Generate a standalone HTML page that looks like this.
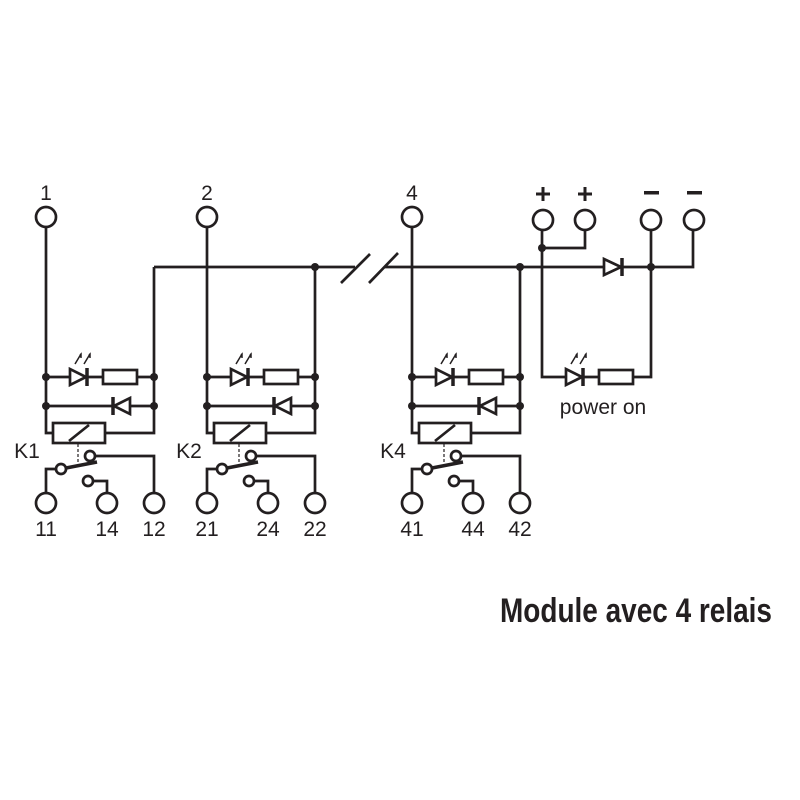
<!DOCTYPE html>
<html><head><meta charset="utf-8"><style>
html,body{margin:0;padding:0;background:#fff;}
svg{display:block;}
text{font-family:"Liberation Sans",sans-serif;fill:#231f20;}
</style></head><body>
<svg width="800" height="800" viewBox="0 0 800 800" xmlns="http://www.w3.org/2000/svg">
<defs>
<g id="ch" stroke="#231f20" stroke-width="2.7" fill="none">
  <circle cx="46" cy="217" r="10" fill="#fff"/>
  <path d="M46 227 V433 H53"/>
  <path d="M154 267 V433 H105"/>
  <path d="M46 377 H70 M87 377 H103 M137 377 H154"/>
  <path d="M70 369 L70 385 L86 377 Z"/>
  <path d="M87 368 V386" stroke-width="3.5"/>
  <rect x="103" y="370" width="34" height="14"/>
  <path d="M75 364 L81 354 M80 355 L81 354 L81 358 M84 364 L90 354 M89 355 L90 354 L90 358" stroke-width="1.5"/>
  <path d="M46 406 H113 M130 406 H154"/>
  <path d="M113 397 V415" stroke-width="3.5"/>
  <path d="M114 406 L130 398 L130 414 Z"/>
  <rect x="53" y="423" width="52" height="20" fill="#fff"/>
  <path d="M69 441 L89 425"/>
  <path d="M78 444 V466" stroke-width="1.2" stroke-dasharray="3,2"/>
  <path d="M66 468 L97 462" stroke-width="3.5"/>
  <circle cx="61" cy="469" r="5" fill="#fff"/>
  <circle cx="90" cy="456" r="5" fill="#fff"/>
  <circle cx="88" cy="481" r="5" fill="#fff"/>
  <path d="M95 456 H154 V493"/>
  <path d="M93 481 H107 V493"/>
  <path d="M56 469 H46 V493"/>
  <circle cx="46" cy="503" r="10" fill="#fff"/>
  <circle cx="107" cy="503" r="10" fill="#fff"/>
  <circle cx="154" cy="503" r="10" fill="#fff"/>
</g>
<g id="dots" fill="#231f20">
  <circle cx="46" cy="377" r="4"/><circle cx="46" cy="406" r="4"/>
  <circle cx="154" cy="377" r="4"/><circle cx="154" cy="406" r="4"/>
</g>
</defs>

<use href="#ch"/><use href="#dots"/>
<use href="#ch" transform="translate(161,0)"/><use href="#dots" transform="translate(161,0)"/>
<use href="#ch" transform="translate(366,0)"/><use href="#dots" transform="translate(366,0)"/>

<g stroke="#231f20" stroke-width="2.7" fill="none">
  <path d="M154 267 H355 M384 267 H693 V227"/>
  <path d="M341 283 L370 254 M369 283 L398 253"/>
  <circle cx="543" cy="220" r="10" fill="#fff"/>
  <circle cx="585" cy="220" r="10" fill="#fff"/>
  <circle cx="651" cy="220" r="10" fill="#fff"/>
  <circle cx="694" cy="220" r="10" fill="#fff"/>
  <path d="M542 230 V377 H566 M583 377 H599 M633 377 H651 V230"/>
  <path d="M542 248 H585 V230"/>
  <path d="M604 259 L604 275 L621 267 Z" fill="#fff"/>
  <path d="M622 258 V276" stroke-width="3.5"/>
  <path d="M566 369 L566 385 L582 377 Z" fill="#fff"/>
  <path d="M583 368 V386" stroke-width="3.5"/>
  <rect x="599" y="370" width="34" height="14" fill="#fff"/>
  <path d="M571 364 L577 354 M576 355 L577 354 L577 358 M580 364 L586 354 M585 355 L586 354 L586 358" stroke-width="1.5"/>
  <path d="M536 194 H550 M543 187 V201 M578 194 H592 M585 187 V201" stroke-width="3"/>
</g>
<g fill="#231f20">
  <circle cx="315" cy="267" r="4"/><circle cx="520" cy="267" r="4"/>
  <circle cx="542" cy="248" r="4"/><circle cx="651" cy="267" r="4"/>
  <rect x="644" y="191" width="15" height="3.5"/>
  <rect x="687" y="191" width="15" height="3.5"/>
</g>

<g font-size="21" text-anchor="middle">
  <text x="46" y="200">1</text>
  <text x="207" y="200">2</text>
  <text x="412" y="200">4</text>
  <text x="46" y="536">11</text><text x="107" y="536">14</text><text x="154" y="536">12</text>
  <text x="207" y="536">21</text><text x="268" y="536">24</text><text x="315" y="536">22</text>
  <text x="412" y="536">41</text><text x="473" y="536">44</text><text x="520" y="536">42</text>
  <text x="27" y="458">K1</text>
  <text x="189" y="458">K2</text>
  <text x="393" y="458">K4</text>
  <text x="603" y="414">power on</text>
</g>
<text x="500" y="622" font-size="34" font-weight="bold" textLength="272" lengthAdjust="spacingAndGlyphs">Module avec 4 relais</text>
</svg>
</body></html>
